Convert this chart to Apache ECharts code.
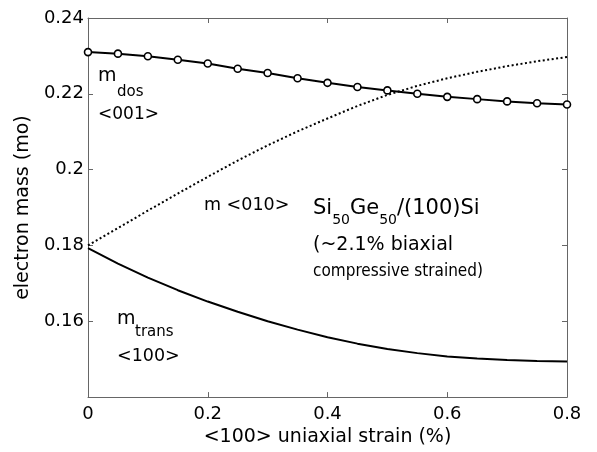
<!DOCTYPE html>
<html>
<head>
<meta charset="utf-8">
<script src="https://cdn.jsdelivr.net/npm/echarts@6/dist/echarts.min.js"></script>
<style>
  html, body { margin: 0; padding: 0; background: #fff; }
  #chart { width: 597px; height: 452px; }
</style>
</head>
<body>
<div id="chart"></div>
<script>
// strain (%) sampled every 0.05
const strain = [0, 0.05, 0.1, 0.15, 0.2, 0.25, 0.3, 0.35, 0.4, 0.45, 0.5, 0.55, 0.6, 0.65, 0.7, 0.75, 0.8];
// m_dos <001>, with circle markers
const mDos = [0.2310, 0.2306, 0.2299, 0.2290, 0.2280, 0.2266, 0.2255, 0.2241, 0.2229, 0.2218, 0.2209, 0.2200, 0.2192, 0.2186, 0.2180, 0.2175, 0.2172];
// m <010>, dotted
const m010 = [0.1800, 0.1846, 0.1892, 0.1937, 0.1981, 0.2024, 0.2064, 0.2101, 0.2135, 0.2168, 0.2197, 0.2221, 0.2241, 0.2258, 0.2273, 0.2286, 0.2297];
// m_trans <100>
const mTrans = [0.1793, 0.1752, 0.1715, 0.1682, 0.1652, 0.1625, 0.1600, 0.1578, 0.1558, 0.1541, 0.1527, 0.1516, 0.1507, 0.1502, 0.1498, 0.1495, 0.1494];

const xTicks = [0, 0.2, 0.4, 0.6, 0.8];
const xTickLabels = ['0', '0.2', '0.4', '0.6', '0.8'];
const yTicks = [0.14, 0.16, 0.18, 0.2, 0.22, 0.24];
const yTickLabels = ['', '0.16', '0.18', '0.2', '0.22', '0.24'];

const FONT = "'DejaVu Sans', 'Liberation Sans', sans-serif";
const AXIS = '#666';

function tickLabel(ticks, labels) {
    return function (v) {
        const i = ticks.findIndex(t => Math.abs(t - v) < 1e-9);
        return i >= 0 ? labels[i] : '';
    };
}
function pairs(ys) {
    return strain.map((x, i) => [x, ys[i]]);
}

// common axis look (box with inward ticks on every side)
function boxAxis(extra) {
    return Object.assign({
        type: 'value',
        axisLine: { show: true, onZero: false, lineStyle: { color: AXIS, width: 1 } },
        axisTick: { show: true, inside: true, length: 5, lineStyle: { color: AXIS } },
        splitLine: { show: false }
    }, extra);
}

let myChart = echarts.init(document.getElementById('chart'));
myChart.setOption({
    animation: false,
    backgroundColor: '#fff',
    grid: { left: 88, right: 30, top: 18, bottom: 53 },
    xAxis: [
        boxAxis({
            position: 'bottom', min: 0, max: 0.8, interval: 0.2,
            axisLabel: { color: '#000', fontSize: 18, fontFamily: FONT, margin: 8,
                         formatter: tickLabel(xTicks, xTickLabels) },
            name: '<100> uniaxial strain (%)',
            nameLocation: 'middle', nameGap: 29,
            nameTextStyle: { color: '#000', fontSize: 19, fontFamily: FONT }
        }),
        boxAxis({ position: 'top', min: 0, max: 0.8, interval: 0.2, axisLabel: { show: false } })
    ],
    yAxis: [
        boxAxis({
            position: 'left', min: 0.14, max: 0.24, interval: 0.02,
            axisLabel: { color: '#000', fontSize: 18, fontFamily: FONT, margin: 4,
                         formatter: tickLabel(yTicks, yTickLabels) },
            name: 'electron mass (mo)',
            nameLocation: 'middle', nameGap: 54,
            nameTextStyle: { color: '#000', fontSize: 19, fontFamily: FONT }
        }),
        boxAxis({ position: 'right', min: 0.14, max: 0.24, interval: 0.02, axisLabel: { show: false } })
    ],
    series: [
        {
            name: 'm <010>', type: 'line', data: pairs(m010),
            showSymbol: false, z: 2,
            lineStyle: { color: '#000', width: 2, type: [2, 2.5] }
        },
        {
            name: 'mtrans <100>', type: 'line', data: pairs(mTrans),
            showSymbol: false, z: 3,
            lineStyle: { color: '#000', width: 2 }
        },
        {
            name: 'mdos <001>', type: 'line', data: pairs(mDos),
            symbol: 'circle', symbolSize: 7, z: 4,
            itemStyle: { color: '#fff', borderColor: '#000', borderWidth: 1.6 },
            lineStyle: { color: '#000', width: 2 }
        }
    ],
    graphic: [
        // m_dos <001>
        { type: 'text', style: { text: 'm', x: 98, y: 76, fontSize: 19, fontFamily: FONT, fill: '#000', verticalAlign: 'middle' } },
        { type: 'text', style: { text: 'dos', x: 117, y: 92, fontSize: 15, fontFamily: FONT, fill: '#000', verticalAlign: 'middle' } },
        { type: 'text', style: { text: '<001>', x: 98, y: 115, fontSize: 17, fontFamily: FONT, fill: '#000', verticalAlign: 'middle' } },
        // m <010>
        { type: 'text', style: { text: 'm <010>', x: 204, y: 205, fontSize: 17.5, fontFamily: FONT, fill: '#000', verticalAlign: 'middle' } },
        // Si50Ge50/(100)Si
        { type: 'text', style: {
            text: '{a|Si}{b|50}{a|Ge}{b|50}{a|/(100)Si}', x: 313, y: 213, verticalAlign: 'middle', fill: '#000',
            rich: {
                a: { fontSize: 21, fontFamily: FONT, padding: [0, 0, 8, 0], verticalAlign: 'bottom' },
                b: { fontSize: 14, fontFamily: FONT, verticalAlign: 'bottom' }
            }
        } },
        { type: 'text', style: { text: '(~2.1% biaxial', x: 313, y: 245, fontSize: 19, fontFamily: FONT, fill: '#000', verticalAlign: 'middle' } },
        { type: 'text', x: 313, y: 271.5, scaleX: 0.9,
          style: { text: 'compressive strained)', x: 0, y: 0, fontSize: 17, fontFamily: FONT, fill: '#000', verticalAlign: 'middle' } },
        // m_trans <100>
        { type: 'text', style: { text: 'm', x: 117, y: 319, fontSize: 19, fontFamily: FONT, fill: '#000', verticalAlign: 'middle' } },
        { type: 'text', style: { text: 'trans', x: 135, y: 332, fontSize: 15, fontFamily: FONT, fill: '#000', verticalAlign: 'middle' } },
        { type: 'text', style: { text: '<100>', x: 117, y: 356, fontSize: 17.5, fontFamily: FONT, fill: '#000', verticalAlign: 'middle' } }
    ]
});
window.onresize = function () {
    myChart.resize();
};
</script>
</body>
</html>
